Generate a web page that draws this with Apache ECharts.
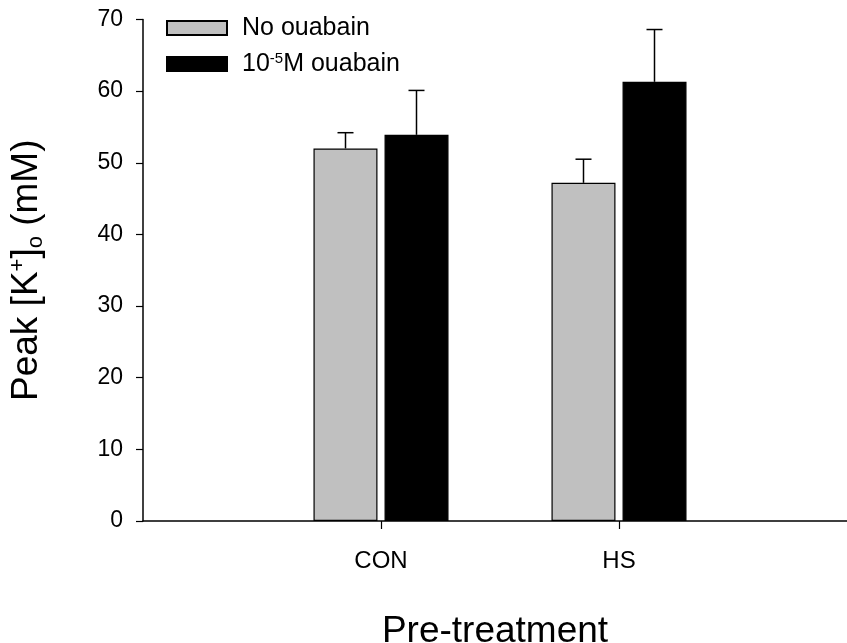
<!DOCTYPE html>
<html>
<head>
<meta charset="utf-8">
<script src="https://cdn.jsdelivr.net/npm/echarts@6/dist/echarts.min.js"></script>
<style>
  html, body { margin: 0; padding: 0; background: #fff; }
  #chart { width: 847px; height: 643px; }
</style>
</head>
<body>
<div id="chart"></div>
<script>
// blank categories at both ends keep the two groups where the original put them
const categories = ["", "CON", "HS", ""];
const noOuabain = [null, 52.0, 47.2, null];
const noOuabainErr = [null, 2.2, 3.3, null];
const ouabain = [null, 53.9, 61.3, null];
const ouabainErr = [null, 6.2, 7.3, null];
const yTicks = [0, 10, 20, 30, 40, 50, 60, 70];

const font = "'Liberation Sans', Arial, sans-serif";

function errData(vals, errs) {
  const out = [];
  vals.forEach((v, i) => {
    if (v != null) out.push([i, v, errs[i]]);
  });
  return out;
}

// offset is px from the category centre (bar 64 wide, gap 7)
function errSeries(name, vals, errs, offset) {
  return {
    name: name,
    type: "custom",
    data: errData(vals, errs),
    z: 1,
    silent: true,
    renderItem: function (params, api) {
      const base = api.coord([api.value(0), api.value(1)]);
      const top = api.coord([api.value(0), api.value(1) + api.value(2)]);
      const x = base[0] + offset;
      const style = { stroke: "#000", lineWidth: 1.5 };
      return {
        type: "group",
        children: [
          { type: "line", shape: { x1: x, y1: base[1], x2: x, y2: top[1] }, style: style },
          { type: "line", shape: { x1: x - 8, y1: top[1], x2: x + 8, y2: top[1] }, style: style },
        ],
      };
    },
  };
}

const chart = echarts.init(document.getElementById("chart"));
const option = {
  backgroundColor: "#fff",
  animation: false,
  textStyle: { fontFamily: font, color: "#000" },
  grid: {
    left: 143,
    top: 19.5,
    bottom: 122,
    right: -10,
    containLabel: false,
    outerBoundsMode: "none",
  },
  legend: {
    data: ["No ouabain", "10-5M ouabain"],
    orient: "vertical",
    left: 166,
    top: 15,
    padding: 0,
    itemWidth: 60,
    itemHeight: 14,
    itemGap: 10,
    icon: "rect",
    formatter: function (name) {
      if (name === "10-5M ouabain") return "10{sup|-5}M ouabain";
      return name;
    },
    textStyle: {
      fontFamily: font,
      fontSize: 25,
      lineHeight: 26,
      color: "#000",
      padding: [0, 0, 0, 10],
      rich: {
        sup: { fontSize: 15, fontFamily: font, verticalAlign: "top", lineHeight: 26, padding: [0, 0, 10, 0] },
      },
    },
  },
  xAxis: {
    type: "category",
    data: categories,
    boundaryGap: false,
    axisLine: { lineStyle: { color: "#000", width: 1.5 } },
    axisTick: {
      length: 8,
      lineStyle: { color: "#000", width: 1.2 },
      interval: function (i, v) { return v !== ""; },
    },
    axisLabel: { color: "#000", fontSize: 24, fontFamily: font, margin: 28, interval: 0 },
    splitLine: { show: false },
    name: "Pre-treatment",
    nameLocation: "middle",
    nameGap: 92,
    nameTextStyle: { fontSize: 37, fontFamily: font, color: "#000", padding: [0, 10, 0, 0] },
  },
  yAxis: {
    type: "value",
    min: yTicks[0],
    max: yTicks[yTicks.length - 1],
    interval: 10,
    axisLine: { show: true, lineStyle: { color: "#000", width: 1.5 } },
    axisTick: { show: true, length: 7, lineStyle: { color: "#000", width: 1.2 } },
    axisLabel: { color: "#000", fontSize: 23, fontFamily: font, margin: 20 },
    splitLine: { show: false },
    name: "Peak [K{sup|+}]{sub|o} (mM)",
    nameLocation: "middle",
    nameRotate: 90,
    nameGap: 96,
    nameTextStyle: {
      fontSize: 37,
      fontFamily: font,
      color: "#000",
      lineHeight: 40,
      rich: {
        sup: { fontSize: 22, fontFamily: font, verticalAlign: "top", lineHeight: 40, padding: [0, 0, 14, 0] },
        sub: { fontSize: 22, fontFamily: font, verticalAlign: "bottom", lineHeight: 40, padding: [16, 0, 0, 0] },
      },
    },
  },
  series: [
    {
      name: "No ouabain",
      type: "bar",
      data: noOuabain,
      barWidth: 64,
      barGap: "11%",
      z: 2,
      itemStyle: { color: "#c0c0c0", borderColor: "#000", borderWidth: 1.2 },
    },
    {
      name: "10-5M ouabain",
      type: "bar",
      data: ouabain,
      barWidth: 64,
      z: 2,
      itemStyle: { color: "#000", borderColor: "#000", borderWidth: 1.2 },
    },
    errSeries("errNo", noOuabain, noOuabainErr, -35.5),
    errSeries("errOua", ouabain, ouabainErr, 35.5),
  ],
};
chart.setOption(option);
</script>
</body>
</html>
